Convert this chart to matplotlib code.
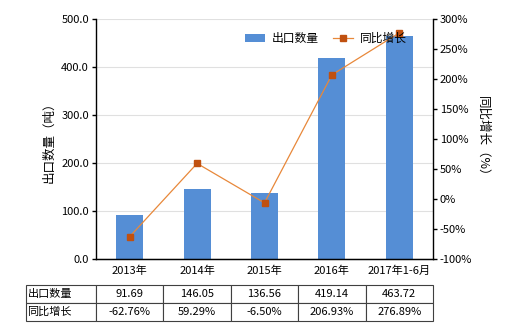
import matplotlib
matplotlib.use("Agg")
import matplotlib.pyplot as plt
from matplotlib.ticker import FuncFormatter

plt.rcParams['font.family'] = ['Noto Sans CJK SC', 'DejaVu Sans']
plt.rcParams['font.size'] = 8

# data
categories = ['2013年', '2014年', '2015年', '2016年', '2017年1-6月']
export_qty = [91.69, 146.05, 136.56, 419.14, 463.72]
yoy_growth = [-62.76, 59.29, -6.50, 206.93, 276.89]
qty_labels = ['91.69', '146.05', '136.56', '419.14', '463.72']
growth_labels = ['-62.76%', '59.29%', '-6.50%', '206.93%', '276.89%']

bar_color = '#558ed5'
line_color = '#e8883a'
marker_color = '#c0500f'

fig = plt.figure(figsize=(5.2, 3.3), dpi=100)
ax = fig.add_axes([96 / 520, 71 / 330, 337 / 520, 240 / 330])
ax2 = ax.twinx()

x = list(range(len(categories)))
ax.bar(x, export_qty, width=0.4, color=bar_color, zorder=2, label='出口数量')
ax.set_ylim(0, 500)
ax.set_yticks([0, 100, 200, 300, 400, 500])
ax.yaxis.set_major_formatter(FuncFormatter(lambda v, p: f'{v:.1f}'))
ax.set_xlim(-0.5, len(categories) - 0.5)
ax.set_xticks(x)
ax.set_xticklabels(categories)
ax.grid(axis='y', color='#e0e0e0', linewidth=0.8, zorder=0)
ax.set_ylabel('出口数量（吨）', fontsize=9)

ax2.plot(x, yoy_growth, color=line_color, linewidth=0.9, marker='s', markersize=4,
         markerfacecolor=marker_color, markeredgecolor=marker_color, label='同比增长', zorder=3)
ax2.set_ylim(-100, 300)
ax2.set_yticks(range(-100, 301, 50))
ax2.yaxis.set_major_formatter(FuncFormatter(lambda v, p: f'{int(v)}%'))
ax2.set_ylabel('同比增长（%）', fontsize=9, rotation=-90, labelpad=12)

for a in (ax, ax2):
    a.spines['top'].set_visible(False)
    a.tick_params(length=3, width=1, pad=2)
ax.spines['right'].set_visible(False)
ax2.spines['left'].set_visible(False)
ax2.spines['right'].set_linewidth(1)
ax.spines['left'].set_linewidth(1)
ax.spines['bottom'].set_linewidth(1)
ax.tick_params(axis='x', length=0, pad=5)

h1, l1 = ax.get_legend_handles_labels()
h2, l2 = ax2.get_legend_handles_labels()
ax2.legend(h1 + h2, l1 + l2, loc='upper right', bbox_to_anchor=(0.955, 0.99), ncol=2,
           frameon=False, fontsize=8.5, handlelength=1.7, handletextpad=0.6,
           columnspacing=1.2)

# data table below the chart
cell_text = [['出口数量'] + qty_labels, ['同比增长'] + growth_labels]
tab_ax = fig.add_axes([26 / 520, 9 / 330, 407 / 520, 36 / 330])
tab_ax.axis('off')
col_w = [70 / 407] + [67.4 / 407] * 5
tbl = tab_ax.table(cellText=cell_text, colWidths=col_w, bbox=[0, 0, 1, 1], cellLoc='center')
tbl.auto_set_font_size(False)
tbl.set_fontsize(8)
for (r, c), cell in tbl.get_celld().items():
    cell.set_edgecolor('#404040')
    cell.set_linewidth(0.8)
    if c == 0:
        cell.set_text_props(ha='left')
        cell.PAD = 0.02

fig.savefig('out.png', dpi=100)
